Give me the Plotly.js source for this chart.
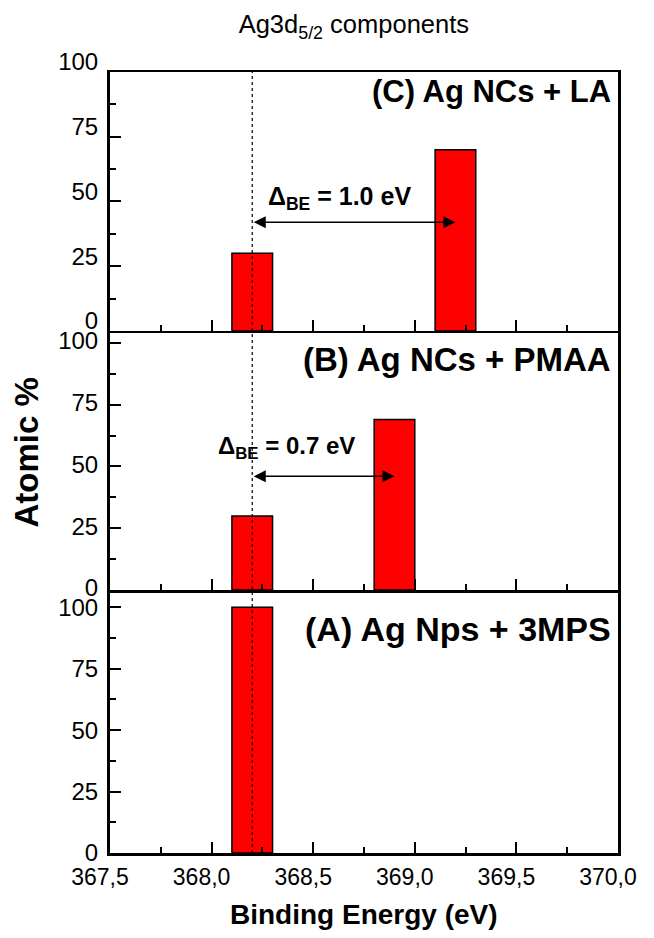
<!DOCTYPE html>
<html>
<head>
<meta charset="utf-8">
<script src="https://cdn.plot.ly/plotly-3.0.1.min.js"></script>
<style>html,body{margin:0;padding:0;background:#fff;}#chart{width:654px;height:938px;}</style>
</head>
<body>
<div id="chart"></div>
<script>
// ---- data ----
const bindingC = [368.2, 369.2];
const atomicC = [30, 70];
const bindingB = [368.2, 368.9];
const atomicB = [30, 69];
const bindingA = [368.2];
const atomicA = [100];
const barWidth = 0.2;
const refEnergy = 368.2;
const xRange = [367.5, 370.0];
const xMajorStep = 0.5;
const xMinorStep = 0.25;
const yMajorStep = 25;
const yMinorStep = 12.5;
const panelLabels = ['(A) Ag Nps + 3MPS', '(B) Ag NCs + PMAA', '(C) Ag NCs + LA'];
const deltaC = {text: 'Δ<sub>BE</sub> = 1.0 eV', from: 368.2, to: 369.2, level: 42};
const deltaB = {text: 'Δ<sub>BE</sub> = 0.7 eV', from: 368.2, to: 368.9, level: 46};

const FONT = 'Liberation Sans, Arial, sans-serif';
const barStyle = {color: '#ff0000', line: {color: '#000', width: 1.5}};

const traces = [
  {type: 'bar', x: bindingA, y: atomicA, width: barWidth, marker: barStyle, xaxis: 'x', yaxis: 'y', hoverinfo: 'skip'},
  {type: 'bar', x: bindingB, y: atomicB, width: barWidth, marker: barStyle, xaxis: 'x2', yaxis: 'y2', hoverinfo: 'skip'},
  {type: 'bar', x: bindingC, y: atomicC, width: barWidth, marker: barStyle, xaxis: 'x3', yaxis: 'y3', hoverinfo: 'skip'}
];

function xAx(anchor, labels, mirror) {
  return {
    anchor: anchor, range: xRange, showgrid: false, zeroline: false,
    showline: true, linecolor: '#000', linewidth: 2.5, mirror: mirror,
    tickmode: 'linear', tick0: xRange[0], dtick: xMajorStep, tickformat: '.1f',
    ticks: 'inside', ticklen: 11, tickwidth: 2, tickcolor: '#000',
    minor: {ticks: 'inside', tickmode: 'linear', tick0: xRange[0], dtick: xMinorStep, ticklen: 6, tickwidth: 2, tickcolor: '#000'},
    showticklabels: labels, ticklabelshift: -10, ticklabelstandoff: 2,
    tickfont: {family: FONT, size: 23, color: '#000'}
  };
}
function yAx(anchor, domain, top, shift) {
  return {
    anchor: anchor, domain: domain, range: [0, top], showgrid: false, zeroline: false,
    showline: true, linecolor: '#000', linewidth: 3, mirror: true,
    tickmode: 'linear', tick0: 0, dtick: yMajorStep, tickformat: 'd',
    ticks: 'inside', ticklen: 11, tickwidth: 2, tickcolor: '#000',
    minor: {ticks: 'inside', tickmode: 'linear', tick0: 0, dtick: yMinorStep, ticklen: 6, tickwidth: 2, tickcolor: '#000'},
    ticklabelshift: shift, ticklabelstandoff: 4,
    tickfont: {family: FONT, size: 24, color: '#000'}
  };
}

function arrow(d, xr, yr) {
  return {
    x: d.to, y: d.level, ax: d.from, ay: d.level, xref: xr, yref: yr, axref: xr, ayref: yr,
    text: '', showarrow: true, arrowside: 'end+start', arrowhead: 2, startarrowhead: 2,
    arrowsize: 1.6, startarrowsize: 1.6, arrowwidth: 1.5, arrowcolor: '#000', standoff: 0, startstandoff: 0
  };
}

const layout = {
  width: 654, height: 938,
  margin: {l: 110, r: 36, t: 72, b: 85},
  paper_bgcolor: '#fff', plot_bgcolor: '#fff',
  separators: ',.',
  showlegend: false, bargap: 0,
  title: {text: 'Ag3d<sub>5/2</sub> components', x: 0.48, xref: 'paper', xanchor: 'center',
          y: 0.974, yref: 'container', yanchor: 'middle', font: {family: FONT, size: 25.5, color: '#000'}},
  xaxis: xAx('y', true, false),
  xaxis2: xAx('y2', false, false),
  xaxis3: xAx('y3', false, true),
  yaxis: yAx('x', [0, 0.3367], 107, 0),
  yaxis2: yAx('x2', [0.3367, 0.6684], 104.8, -2),
  yaxis3: yAx('x3', [0.6684, 1], 100, -10),
  shapes: [
    {type: 'line', xref: 'x', yref: 'paper', x0: refEnergy, x1: refEnergy, y0: 0, y1: 1,
     line: {color: '#000', width: 1.2, dash: 'dot'}, layer: 'above'}
  ],
  annotations: [
    arrow(deltaC, 'x3', 'y3'),
    arrow(deltaB, 'x2', 'y2'),
    {text: deltaC.text, x: 368.27, y: 51.5, xref: 'x3', yref: 'y3', xanchor: 'left', yanchor: 'middle',
     showarrow: false, font: {family: FONT, size: 25, color: '#000', weight: 'bold'}},
    {text: deltaB.text, x: 368.02, y: 57.5, xref: 'x2', yref: 'y2', xanchor: 'left', yanchor: 'middle',
     showarrow: false, font: {family: FONT, size: 24, color: '#000', weight: 'bold'}},
    {text: '<b>' + panelLabels[2] + '</b>', x: 0.99, y: 0.925, xref: 'paper', yref: 'y3 domain',
     xanchor: 'right', yanchor: 'middle', showarrow: false, font: {family: FONT, size: 31, color: '#000'}},
    {text: '<b>' + panelLabels[1] + '</b>', x: 0.99, y: 0.89, xref: 'paper', yref: 'y2 domain',
     xanchor: 'right', yanchor: 'middle', showarrow: false, font: {family: FONT, size: 33, color: '#000'}},
    {text: '<b>' + panelLabels[0] + '</b>', x: 0.99, y: 0.85, xref: 'paper', yref: 'y domain',
     xanchor: 'right', yanchor: 'middle', showarrow: false, font: {family: FONT, size: 34, color: '#000'}},
    {text: '<b>Atomic %</b>', x: -0.165, y: 0.513, xref: 'paper', yref: 'paper', textangle: -90,
     xanchor: 'center', yanchor: 'middle', showarrow: false, font: {family: FONT, size: 33, color: '#000'}},
    {text: '<b>Binding Energy (eV)</b>', x: 0.5, y: -0.079, xref: 'paper', yref: 'paper',
     xanchor: 'center', yanchor: 'middle', showarrow: false, font: {family: FONT, size: 28, color: '#000'}}
  ]
};

Plotly.newPlot('chart', traces, layout, {staticPlot: true, displayModeBar: false});
</script>
</body>
</html>
